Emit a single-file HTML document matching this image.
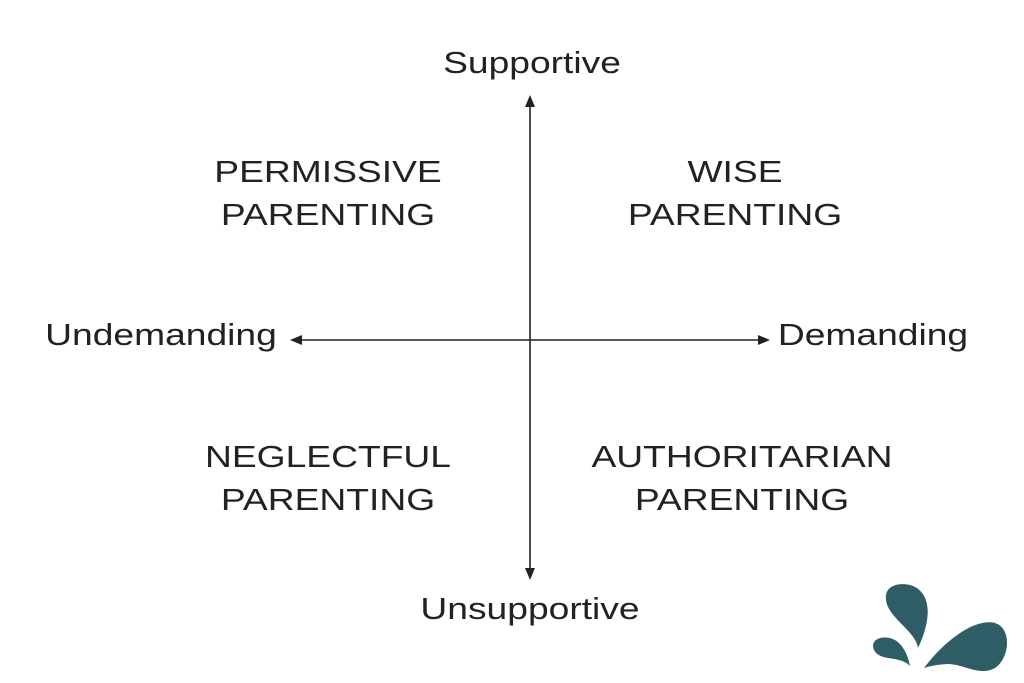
<!DOCTYPE html>
<html><head><style>
body{margin:0;width:1024px;height:683px;background:#fff;overflow:hidden;position:relative;font-family:"Liberation Sans",Arial,sans-serif;color:#222}
.t{position:absolute;font-size:31px;text-align:center;line-height:43px;white-space:nowrap;transform:scaleX(1.2);transform-origin:center}
</style></head><body>
<div class="t" style="left:432px;top:41px;width:200px">Supportive</div>
<div class="t" style="left:410px;top:587px;width:240px">Unsupportive</div>
<div class="t" style="left:41px;top:313px;width:240px">Undemanding</div>
<div class="t" style="left:773px;top:313px;width:200px">Demanding</div>
<div class="t" style="left:178px;top:150px;width:300px">PERMISSIVE<br>PARENTING</div>
<div class="t" style="left:585px;top:150px;width:300px">WISE<br>PARENTING</div>
<div class="t" style="left:178px;top:435px;width:300px">NEGLECTFUL<br>PARENTING</div>
<div class="t" style="left:592px;top:435px;width:300px">AUTHORITARIAN<br>PARENTING</div>
<svg width="1024" height="683" style="position:absolute;left:0;top:0">
<g stroke="#222" stroke-width="1.6" fill="#222">
<line x1="300" y1="340" x2="760" y2="340"/>
<line x1="530" y1="105" x2="530" y2="570"/>
<polygon points="290,340 302,335 302,345" stroke="none"/>
<polygon points="770,340 758,335 758,345" stroke="none"/>
<polygon points="530,95 525,107 535,107" stroke="none"/>
<polygon points="530,580 525,568 535,568" stroke="none"/>
</g>
<g fill="#2e5d66">
<path d="M918,648 C915,630 888,618 886,600 C884,586 898,582 910,585 C928,590 935,612 918,648 Z"/>
<path d="M910,666 C900,655 880,662 874,650 C870,640 880,636 890,638 C902,641 908,655 910,666 Z"/>
<path d="M924,668 C945,640 975,618 995,623 C1012,628 1010,658 995,668 C980,676 968,666 950,664 C940,664 930,666 924,668 Z"/>
</g>
</svg>
</body></html>
